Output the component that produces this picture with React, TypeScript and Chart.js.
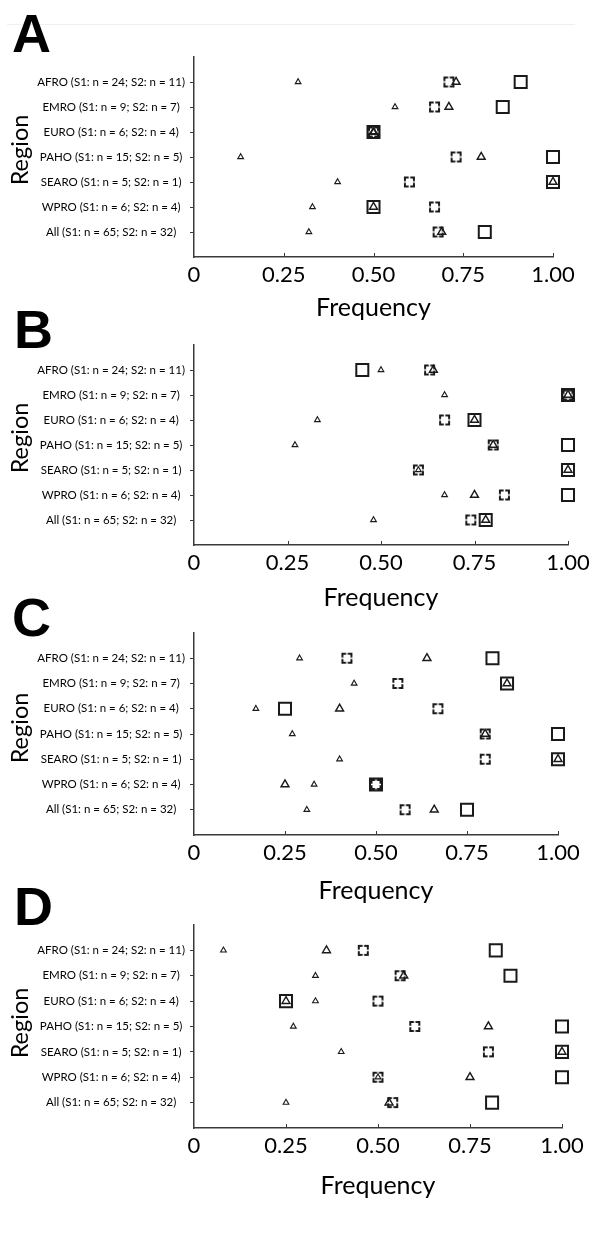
import React, { useEffect, useRef } from 'react';
import { Chart, registerables } from 'chart.js';

Chart.register(...registerables);

// ---------- data ----------
const regions = [
  'AFRO (S1: n = 24; S2: n = 11)',
  'EMRO (S1: n = 9; S2: n = 7)',
  'EURO (S1: n = 6; S2: n = 4)',
  'PAHO (S1: n = 15; S2: n = 5)',
  'SEARO (S1: n = 5; S2: n = 1)',
  'WPRO (S1: n = 6; S2: n = 4)',
  'All (S1: n = 65; S2: n = 32)',
];
const xTickValues = [0, 0.25, 0.5, 0.75, 1];
const xTickLabels = ['0', '0.25', '0.50', '0.75', '1.00'];
const panelLetters = ['A', 'B', 'C', 'D'];
const xTitle = 'Frequency';
const yTitle = 'Region';

// Panel A
const aSmallTri = [0.29, 0.56, 0.5, 0.13, 0.4, 0.33, 0.32];
const aDashed = [0.71, 0.67, 0.5, 0.73, 0.6, 0.67, 0.68];
const aTri = [0.73, 0.71, 0.5, 0.8, 1.0, 0.5, 0.69];
const aSquare = [0.91, 0.86, 0.5, 1.0, 1.0, 0.5, 0.81];
// Panel B
const bSmallTri = [0.5, 0.67, 0.33, 0.27, 0.6, 0.67, 0.48];
const bDashed = [0.63, 1.0, 0.67, 0.8, 0.6, 0.83, 0.74];
const bTri = [0.64, 1.0, 0.75, 0.8, 1.0, 0.75, 0.78];
const bSquare = [0.45, 1.0, 0.75, 1.0, 1.0, 1.0, 0.78];
// Panel C
const cSmallTri = [0.29, 0.44, 0.17, 0.27, 0.4, 0.33, 0.31];
const cDashed = [0.42, 0.56, 0.67, 0.8, 0.8, 0.5, 0.58];
const cTri = [0.64, 0.86, 0.4, 0.8, 1.0, 0.25, 0.66];
const cSquare = [0.82, 0.86, 0.25, 1.0, 1.0, 0.5, 0.75];
// Panel D
const dSmallTri = [0.08, 0.33, 0.33, 0.27, 0.4, 0.5, 0.25];
const dDashed = [0.46, 0.56, 0.5, 0.6, 0.8, 0.5, 0.54];
const dTri = [0.36, 0.57, 0.25, 0.8, 1.0, 0.75, 0.53];
const dSquare = [0.82, 0.86, 0.25, 1.0, 1.0, 1.0, 0.81];

const panelData = [
  { smallTri: aSmallTri, dashed: aDashed, tri: aTri, square: aSquare },
  { smallTri: bSmallTri, dashed: bDashed, tri: bTri, square: bSquare },
  { smallTri: cSmallTri, dashed: cDashed, tri: cTri, square: cSquare },
  { smallTri: dSmallTri, dashed: dDashed, tri: dTri, square: dSquare },
];

// ---------- layout ----------
const PLOT_LEFT = 194;
const panelLayout = [
  { canvasTop: 0, canvasH: 325, plotTop: 57, plotBottom: 257, plotRight: 553, titleCenter: 308, letterTop: 13, letterLeft: 13, regionCenter: 150 },
  { canvasTop: 325, canvasH: 290, plotTop: 345, plotBottom: 545, plotRight: 568, titleCenter: 598, letterTop: 309, letterLeft: 15, regionCenter: 438 },
  { canvasTop: 615, canvasH: 293, plotTop: 633, plotBottom: 835, plotRight: 558, titleCenter: 891, letterTop: 597, letterLeft: 13, regionCenter: 728 },
  { canvasTop: 908, canvasH: 295, plotTop: 925, plotBottom: 1128, plotRight: 562, titleCenter: 1186, letterTop: 886, letterLeft: 15, regionCenter: 1023 },
];

const INK = '#1a1a1a';
const AXIS = '#3a3a3a';
const LABEL_FONT = "'Liberation Sans Narrow', 'Lato', sans-serif";
const BIG_FONT = "'Lato', 'Open Sans', sans-serif";

function makeDashedSquare(): HTMLCanvasElement {
  const size = 13;
  const c = document.createElement('canvas');
  c.width = size;
  c.height = size;
  const ctx = c.getContext('2d')!;
  ctx.strokeStyle = INK;
  ctx.lineWidth = 2;
  ctx.lineCap = 'square';
  const a = 2;
  const b = size - 2;
  const seg = (b - a) * 0.3;
  ctx.beginPath();
  ctx.moveTo(a, a); ctx.lineTo(a + seg, a);
  ctx.moveTo(b - seg, a); ctx.lineTo(b, a);
  ctx.moveTo(a, b); ctx.lineTo(a + seg, b);
  ctx.moveTo(b - seg, b); ctx.lineTo(b, b);
  ctx.moveTo(a, a); ctx.lineTo(a, a + seg);
  ctx.moveTo(a, b - seg); ctx.lineTo(a, b);
  ctx.moveTo(b, a); ctx.lineTo(b, a + seg);
  ctx.moveTo(b, b - seg); ctx.lineTo(b, b);
  ctx.stroke();
  return c;
}

const insideTicks = {
  id: 'insideTicks',
  afterDraw(chart: any) {
    const { ctx, chartArea, scales } = chart;
    const x = scales.x;
    ctx.save();
    ctx.strokeStyle = AXIS;
    ctx.lineWidth = 1;
    xTickValues.forEach((v) => {
      if (v === 0) return;
      const px = Math.round(x.getPixelForValue(v)) + 0.5;
      ctx.beginPath();
      ctx.moveTo(px, chartArea.bottom);
      ctx.lineTo(px, chartArea.bottom - 4);
      ctx.stroke();
    });
    ctx.restore();
  },
};

function Panel({ index }: { index: number }) {
  const ref = useRef<HTMLCanvasElement | null>(null);
  const L = panelLayout[index];
  const D = panelData[index];

  useEffect(() => {
    if (!ref.current) return;
    const dashedImg = makeDashedSquare();
    const toPts = (arr: number[]) => arr.map((v, i) => ({ x: v, y: i + 1 }));
    const xAxisH = L.canvasH - (L.plotBottom - L.canvasTop);
    const titleLine = 25 * 1.2;
    const titlePadBottom = Math.max(0, L.canvasTop + L.canvasH - titleLine / 2 - L.titleCenter);

    const chart = new Chart(ref.current, {
      type: 'scatter',
      data: {
        datasets: [
          {
            label: 'small triangle',
            data: toPts(D.smallTri),
            pointStyle: 'triangle',
            pointRadius: 3.3,
            borderWidth: 1.1,
            borderColor: INK,
            backgroundColor: 'rgba(0,0,0,0)',
            clip: false,
          },
          {
            label: 'triangle',
            data: toPts(D.tri),
            pointStyle: 'triangle',
            pointRadius: 4.6,
            borderWidth: 1.4,
            borderColor: INK,
            backgroundColor: 'rgba(0,0,0,0)',
            clip: false,
          },
          {
            label: 'dashed square',
            data: toPts(D.dashed),
            pointStyle: dashedImg as any,
            pointRadius: 6,
            borderColor: INK,
            backgroundColor: 'rgba(0,0,0,0)',
            clip: false,
          },
          {
            label: 'square',
            data: toPts(D.square),
            pointStyle: 'rect',
            pointRadius: 8.5,
            borderWidth: 2,
            borderColor: INK,
            backgroundColor: 'rgba(0,0,0,0)',
            clip: false,
          },
        ],
      },
      options: {
        animation: false,
        responsive: false,
        maintainAspectRatio: false,
        devicePixelRatio: 1,
        layout: {
          padding: { top: L.plotTop - L.canvasTop, right: 600 - L.plotRight, bottom: 0, left: 0 },
        },
        plugins: { legend: { display: false }, tooltip: { enabled: false }, title: { display: false } },
        scales: {
          x: {
            type: 'linear',
            min: 0,
            max: 1,
            afterBuildTicks: (s: any) => {
              s.ticks = xTickValues.map((v) => ({ value: v }));
            },
            afterFit: (s: any) => {
              s.height = xAxisH;
            },
            ticks: {
              autoSkip: false,
              maxRotation: 0,
              padding: 5,
              color: '#000',
              font: { family: BIG_FONT, size: 22 },
              callback: (_v: any, i: number) => xTickLabels[i],
            },
            grid: { drawOnChartArea: false, drawTicks: false },
            border: { display: true, color: AXIS, width: 1.5 },
            title: {
              display: true,
              text: xTitle,
              color: '#000',
              font: { family: BIG_FONT, size: 25 },
              padding: { top: 0, bottom: titlePadBottom },
            },
          },
          y: {
            type: 'linear',
            min: 0,
            max: 8,
            reverse: true,
            afterBuildTicks: (s: any) => {
              s.ticks = regions.map((_r, i) => ({ value: i + 1 }));
            },
            afterFit: (s: any) => {
              s.width = PLOT_LEFT;
            },
            ticks: {
              autoSkip: false,
              crossAlign: 'center',
              padding: 5,
              color: '#000',
              font: { family: LABEL_FONT, size: 11.5 },
              callback: (v: any) => regions[Number(v) - 1] ?? '',
            },
            grid: { drawOnChartArea: false, drawTicks: true, tickLength: 4, color: AXIS, lineWidth: 1 },
            border: { display: true, color: AXIS, width: 1.5 },
            title: { display: false },
          },
        },
      },
      plugins: [insideTicks],
    } as any);
    return () => chart.destroy();
  }, [index]);

  return (
    <canvas
      ref={ref}
      width={600}
      height={L.canvasH}
      style={{ position: 'absolute', left: 0, top: L.canvasTop, width: 600, height: L.canvasH }}
    />
  );
}

export default function App() {
  return (
    <div style={{ position: 'absolute', left: 0, top: 0, width: 600, height: 1239, background: '#fff', overflow: 'hidden' }}>
      <div style={{ position: 'absolute', left: 7, top: 24, width: 568, height: 1, background: '#efefef' }} />
      {panelLayout.map((_l, i) => (
        <Panel key={i} index={i} />
      ))}
      {panelLayout.map((l, i) => (
        <div
          key={'L' + i}
          style={{
            position: 'absolute',
            left: l.letterLeft - 1,
            top: l.letterTop - 7,
            fontFamily: "'Liberation Sans', Arial, sans-serif",
            fontWeight: 700,
            fontSize: 54,
            lineHeight: 1,
            color: '#000',
            zIndex: 2,
          }}
        >
          {panelLetters[i]}
        </div>
      ))}
      {panelLayout.map((l, i) => (
        <div
          key={'R' + i}
          style={{
            position: 'absolute',
            left: 20,
            top: l.regionCenter,
            transform: 'translate(-50%, -50%) rotate(-90deg)',
            fontFamily: BIG_FONT,
            fontSize: 23.5,
            lineHeight: 1,
            whiteSpace: 'nowrap',
            color: '#000',
            zIndex: 2,
          }}
        >
          {yTitle}
        </div>
      ))}
    </div>
  );
}
